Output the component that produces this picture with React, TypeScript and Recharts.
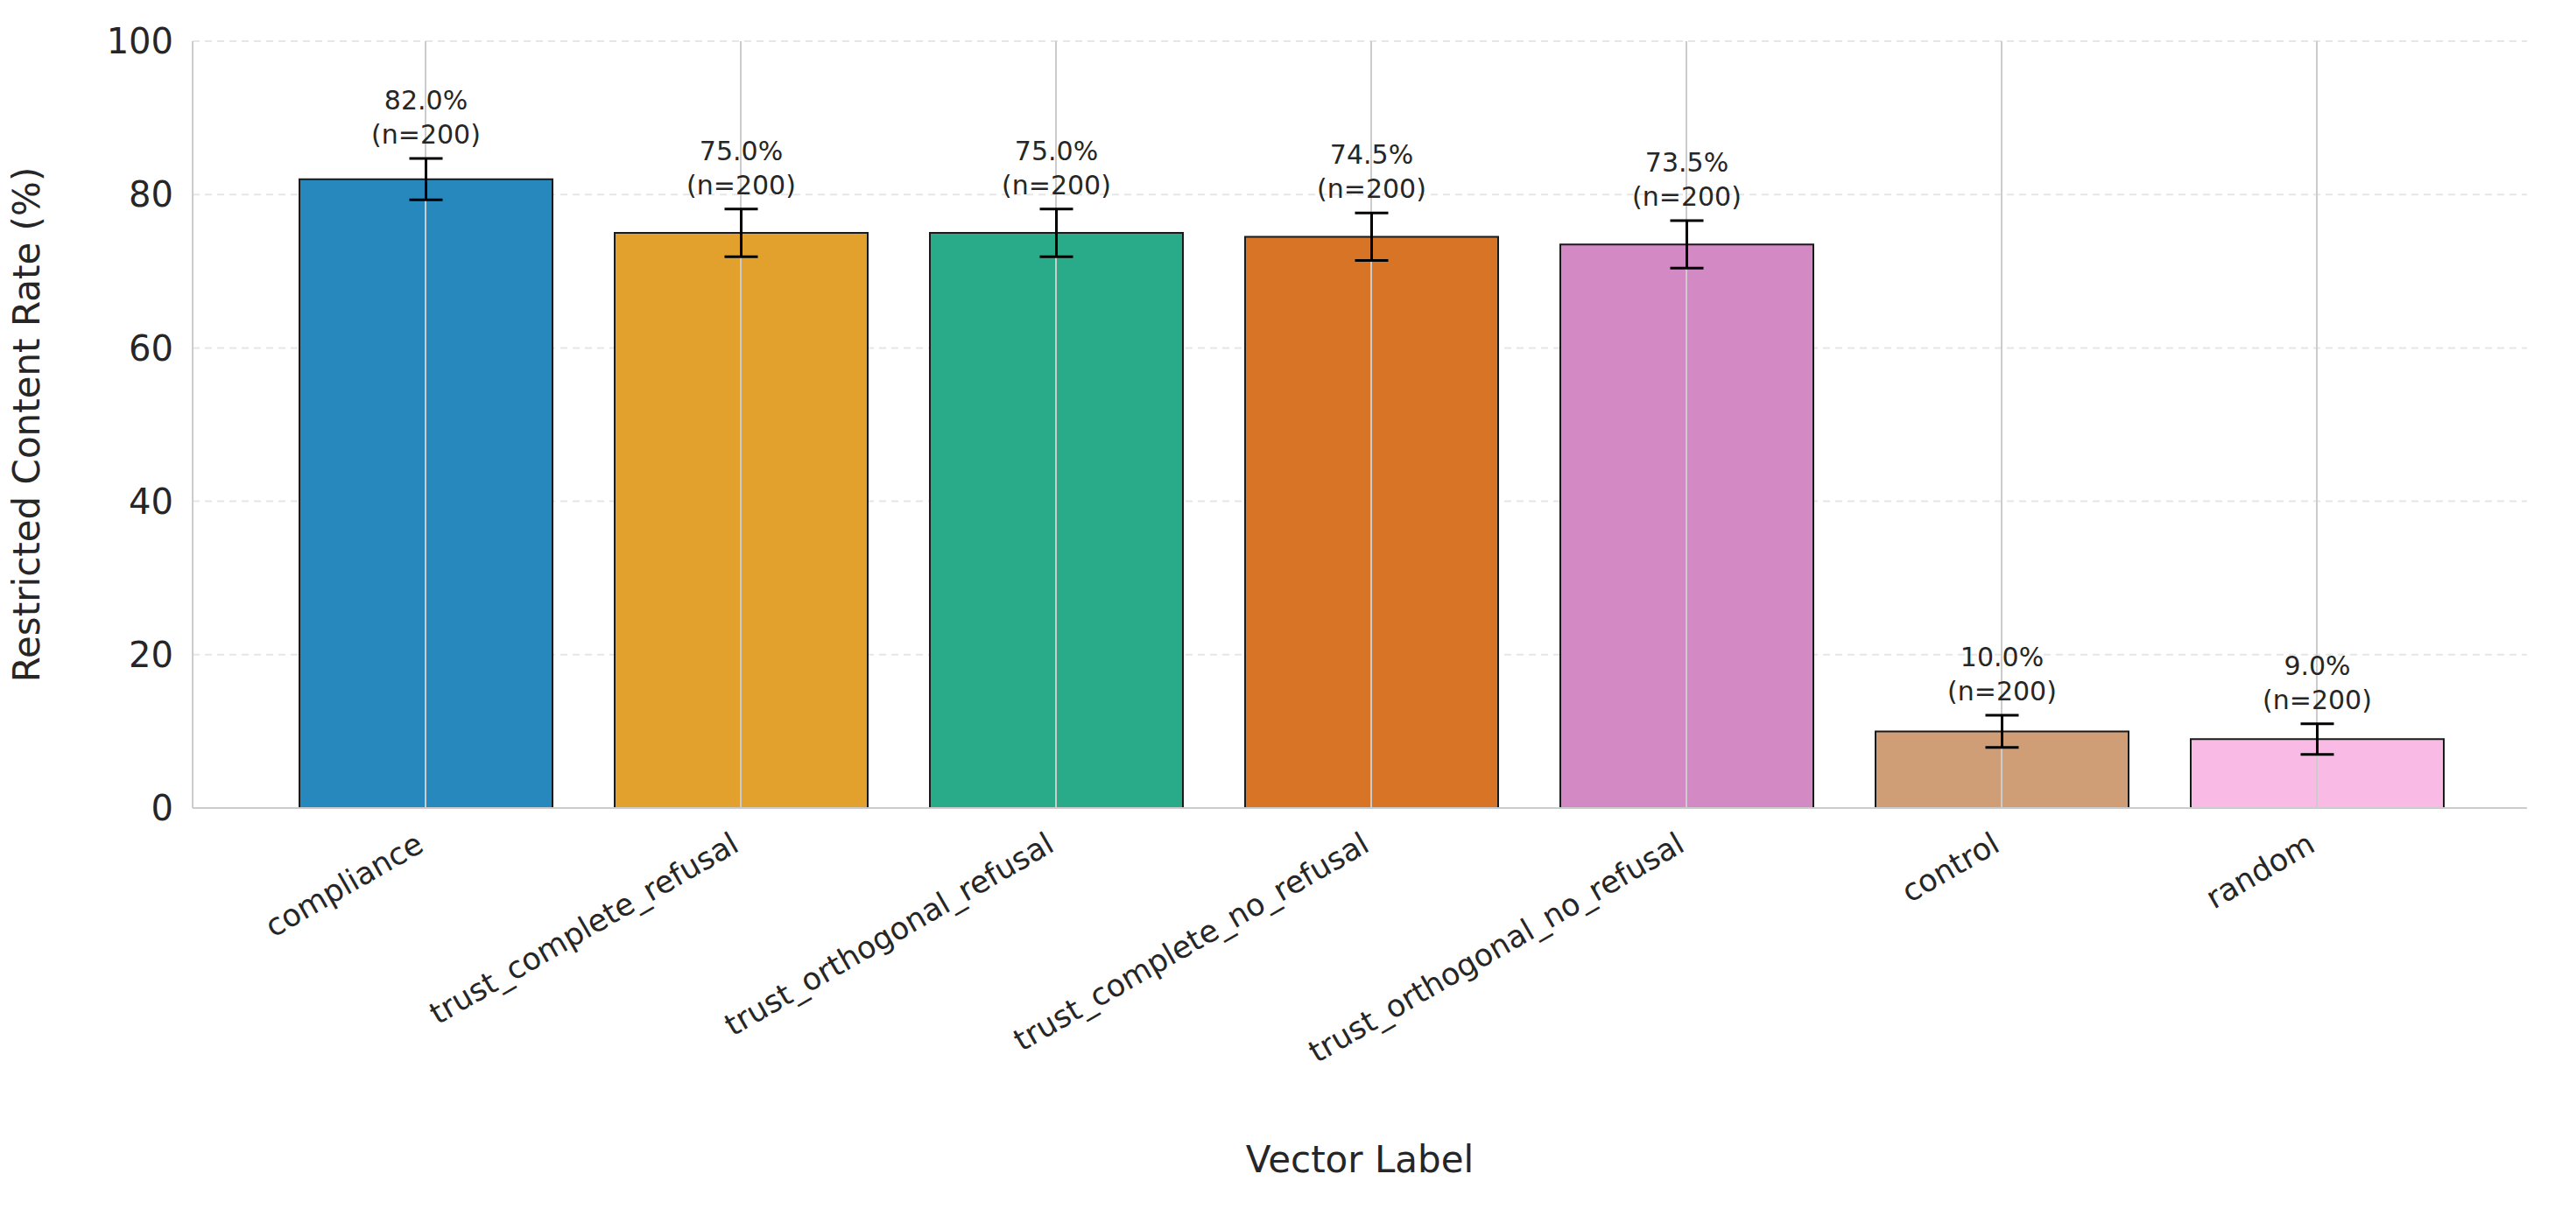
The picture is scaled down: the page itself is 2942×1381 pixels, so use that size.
import { Bar, BarChart, CartesianGrid, Cell, ErrorBar, LabelList, ReferenceLine, XAxis, YAxis } from "recharts";

const labels = [
  "compliance",
  "trust_complete_refusal",
  "trust_orthogonal_refusal",
  "trust_complete_no_refusal",
  "trust_orthogonal_no_refusal",
  "control",
  "random",
];
const rates = [82.0, 75.0, 75.0, 74.5, 73.5, 10.0, 9.0];
const errors = [2.7, 3.1, 3.1, 3.1, 3.1, 2.1, 2.0];
const counts = [200, 200, 200, 200, 200, 200, 200];
const colors = ["#2788bd", "#e2a12c", "#29ab89", "#d87425", "#d38ac4", "#d09e76", "#f9bae5"];
const yTicks = [0, 20, 40, 60, 80, 100];

const data = labels.map((label, i) => ({ label, rate: rates[i], err: errors[i], n: counts[i] }));

const FONT = "DejaVu Sans, sans-serif";

function XTick(props: any) {
  const { x, y, payload } = props;
  return (
    <text
      x={x}
      y={y + 40}
      textAnchor="end"
      transform={`rotate(-30, ${x}, ${y + 40})`}
      fontSize={35}
      fill="#262626"
      fontFamily={FONT}
    >
      {payload.value}
    </text>
  );
}

function BarLabel(props: any) {
  const { x, y, width, height, index } = props;
  const d = data[index];
  const perUnit = height / d.rate;
  const top = y - d.err * perUnit;
  const cx = x + width / 2;
  return (
    <text textAnchor="middle" fontSize={30} fill="#262626" fontFamily={FONT}>
      <tspan x={cx} y={top - 56}>{d.rate.toFixed(1)}%</tspan>
      <tspan x={cx} y={top - 17}>(n={d.n})</tspan>
    </text>
  );
}

export default function App() {
  return (
    <div style={{ position: "absolute", left: 0, top: 0, background: "#fff" }}>
      <BarChart
        width={2942}
        height={1381}
        data={data}
        margin={{ top: 47, right: 56, left: 0, bottom: 0 }}
        barSize={289}
      >
        <CartesianGrid stroke="#e6e6e6" strokeDasharray="8 6" vertical={false} strokeWidth={2} />
        {labels.map((l) => (
          <ReferenceLine key={l} x={l} stroke="#cccccc" strokeWidth={2} />
        ))}
        <XAxis
          dataKey="label"
          tick={<XTick />}
          tickLine={false}
          axisLine={{ stroke: "#cccccc", strokeWidth: 2 }}
          interval={0}
          height={458}
          padding={{ left: 86, right: 60 }}
          label={{ value: "Vector Label", position: "insideBottom", offset: 42, fontSize: 42, fill: "#262626", fontFamily: FONT }}
        />
        <YAxis
          domain={[0, 100]}
          ticks={yTicks}
          width={220}
          tickLine={false}
          axisLine={{ stroke: "#cccccc", strokeWidth: 2 }}
          tick={{ fontSize: 40, fill: "#262626", fontFamily: FONT }}
          tickMargin={16}
          label={{
            value: "Restricted Content Rate (%)",
            angle: -90,
            position: "insideLeft",
            offset: 30,
            style: { textAnchor: "middle", fontSize: 42, fill: "#262626", fontFamily: FONT },
          }}
        />
        <Bar dataKey="rate" isAnimationActive={false} stroke="#1a1a1a" strokeWidth={2}>
          {data.map((d, i) => (
            <Cell key={d.label} fill={colors[i]} />
          ))}
          <ErrorBar dataKey="err" width={19} stroke="#000" strokeWidth={3} />
          <LabelList dataKey="rate" content={<BarLabel />} />
        </Bar>
      </BarChart>
    </div>
  );
}
